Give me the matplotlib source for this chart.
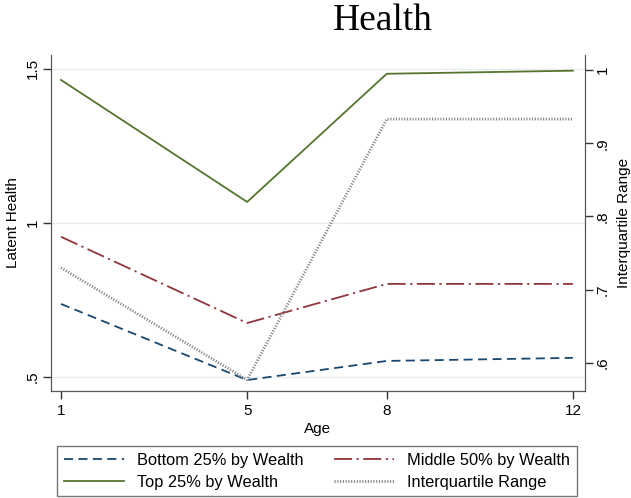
import matplotlib.pyplot as plt
from matplotlib.lines import Line2D

ages = [1, 5, 8, 12]
bottom25 = [0.737, 0.490, 0.552, 0.562]
middle50 = [0.955, 0.675, 0.802, 0.802]
top25 = [1.464, 1.068, 1.484, 1.494]
iqr = [0.730, 0.577, 0.933, 0.933]

left_ticks = [0.5, 1.0, 1.5]
left_labels = [".5", "1", "1.5"]
right_ticks = [0.6, 0.7, 0.8, 0.9, 1.0]
right_labels = [".6", ".7", ".8", ".9", "1"]

plt.rcParams['font.family'] = ['Liberation Sans', 'DejaVu Sans']

fig = plt.figure(figsize=(6.31, 4.98), dpi=100)
ax = fig.add_axes([0.0808, 0.2149, 0.8463, 0.6747])
ax2 = ax.twinx()

navy = "#1a476f"
maroon = "#90353b"
green = "#55752f"
grey = "#808080"

dash = (0, (5, 3))
dashdot = (0, (10, 2.5, 1.2, 2.5))
dots = (0, (0.4, 0.6))

ax.plot(ages, bottom25, color=navy, lw=1.3, linestyle=dash)
ax.plot(ages, middle50, color=maroon, lw=1.3, linestyle=dashdot)
ax.plot(ages, top25, color=green, lw=1.3)
ax2.plot(ages, iqr, color=grey, lw=2.0, linestyle=dots)

ax.set_xlim(0.785, 12.26)
ax.set_ylim(0.4545, 1.545)
ax2.set_ylim(0.5618, 1.0205)

ax.set_xticks(ages)
ax.set_yticks(left_ticks)
ax.set_yticklabels(left_labels, rotation=90, va="center")
ax2.set_yticks(right_ticks)
ax2.set_yticklabels(right_labels, rotation=90, va="center")

for a in (ax, ax2):
    a.tick_params(direction="out", length=6, width=1, colors="#333333",
                  labelsize=11, labelcolor="black")
    for s in a.spines.values():
        s.set_color("#555555")
    a.spines["top"].set_visible(False)
ax.tick_params(axis="y", pad=2)
ax2.tick_params(axis="y", pad=2)

ax.grid(axis="y", color="#e6ecec", lw=1)
ax.set_axisbelow(True)

ax.set_xlabel("Age", fontsize=11, labelpad=3)
ax.set_ylabel("Latent Health", fontsize=11, labelpad=4)
ax2.set_ylabel("Interquartile Range", fontsize=11, labelpad=5)

fig.text(0.607, 0.958, "Health", ha="center", va="center",
         fontsize=27, family=["Liberation Serif", "DejaVu Serif"])

handles = [
    Line2D([], [], color=navy, lw=1.3, linestyle=dash),
    Line2D([], [], color=green, lw=1.3),
    Line2D([], [], color=maroon, lw=1.3, linestyle=dashdot),
    Line2D([], [], color=grey, lw=2.0, linestyle=dots),
]
labels = ["Bottom 25% by Wealth", "Top 25% by Wealth",
          "Middle 50% by Wealth", "Interquartile Range"]
leg = fig.legend(handles, labels, ncol=2, loc="upper left",
                 bbox_to_anchor=(0.0903, 0.1044), borderaxespad=0,
                 frameon=True, fancybox=False, fontsize=11.8,
                 handlelength=3.66, handletextpad=0.85, columnspacing=1.8,
                 labelspacing=0.45, borderpad=0.4)
leg.get_frame().set_edgecolor("#555555")
leg.get_frame().set_linewidth(1)

fig.savefig("out.png", dpi=100)
